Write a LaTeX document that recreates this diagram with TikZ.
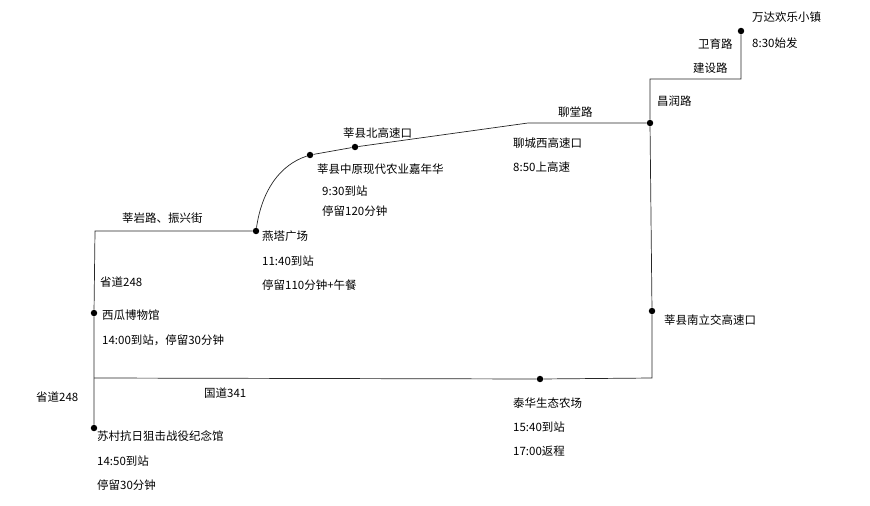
\documentclass[tikz,border=0pt]{standalone}
\usepackage{fontspec}
\setmainfont{Noto Sans CJK SC}
\begin{document}
\begin{tikzpicture}[x=0.03cm,y=-0.03cm,
  route/.style={draw=black!85,line width=0.6pt},
  stop/.style={circle,fill=black,inner sep=0pt,minimum size=5.5pt},
  lbl/.style={anchor=west,inner sep=0pt,font=\fontsize{9.8}{11}\selectfont,align=left}]
\useasboundingbox (0,0) rectangle (870,505);
\node[stop] (wanda) at (741,31) {};
\coordinate (c1) at (741,79);
\coordinate (c2) at (650,79);
\node[stop] (chang) at (650,123) {};
\coordinate (c3) at (528,123);
\node[stop] (beigao) at (355,147) {};
\node[stop] (jianian) at (310,155) {};
\node[stop] (yanta) at (256,231) {};
\coordinate (c4) at (95,231);
\node[stop] (xigua) at (94,313) {};
\coordinate (c5) at (94,378);
\node[stop] (sucun) at (94,428) {};
\node[stop] (taihua) at (540,379) {};
\coordinate (c6) at (652,378);
\node[stop] (nanli) at (652,311) {};
\draw[route] (wanda) -- (c1) -- (c2) -- (chang) -- (c3) -- (beigao) -- (jianian)
  .. controls (280,165) and (262,190) .. (yanta) -- (c4) -- (xigua) -- (c5) -- (sucun);
\draw[route] (chang) -- (nanli) -- (c6) -- (taihua) -- (c5);
\node[lbl] at (752,17) {万达欢乐小镇};
\node[lbl] at (752,43) {8:30始发};
\node[lbl] at (698,44) {卫育路};
\node[lbl] at (693,68) {建设路};
\node[lbl] at (657,101) {昌润路};
\node[lbl] at (558,112) {聊堂路};
\node[lbl] at (513,143) {聊城西高速口};
\node[lbl] at (513,167) {8:50上高速};
\node[lbl] at (343,133) {莘县北高速口};
\node[lbl] at (317,169) {莘县中原现代农业嘉年华};
\node[lbl] at (322,191) {9:30到站};
\node[lbl] at (322,211) {停留120分钟};
\node[lbl] at (122,218) {莘岩路、振兴街};
\node[lbl] at (262,236) {燕塔广场};
\node[lbl] at (262,261) {11:40到站};
\node[lbl] at (262,285) {停留110分钟+午餐};
\node[lbl] at (100,282) {省道248};
\node[lbl] at (102,315) {西瓜博物馆};
\node[lbl] at (102,340) {14:00到站，停留30分钟};
\node[lbl] at (664,320) {莘县南立交高速口};
\node[lbl] at (204,393) {国道341};
\node[lbl] at (36,397) {省道248};
\node[lbl] at (513,403) {泰华生态农场};
\node[lbl] at (513,427) {15:40到站};
\node[lbl] at (513,451) {17:00返程};
\node[lbl] at (97,436) {苏村抗日狙击战役纪念馆};
\node[lbl] at (97,461) {14:50到站};
\node[lbl] at (97,485) {停留30分钟};
\end{tikzpicture}
\end{document}
